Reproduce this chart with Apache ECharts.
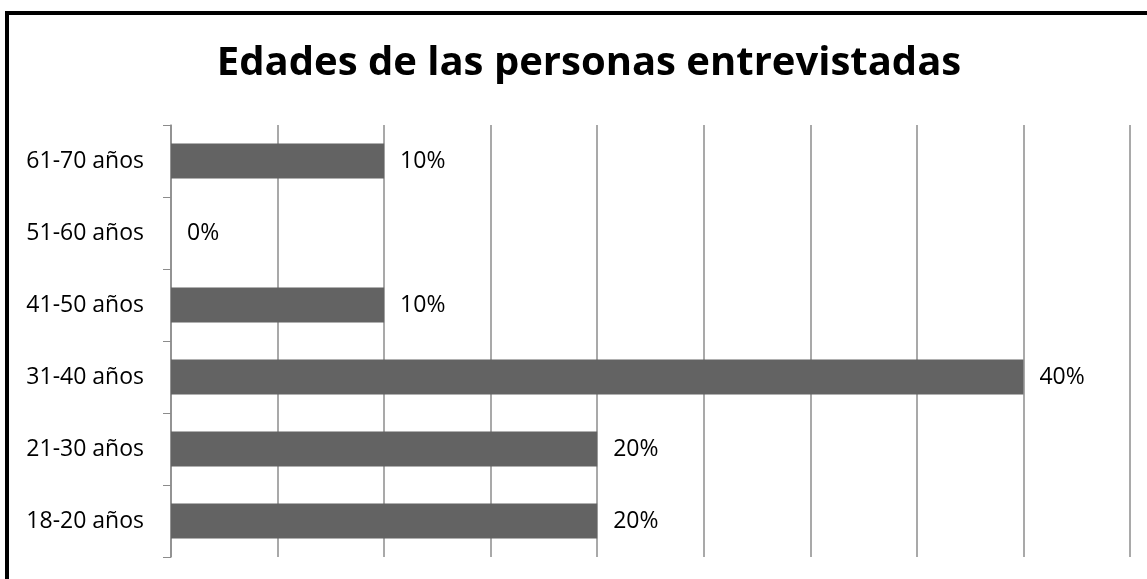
<!DOCTYPE html>
<html>
<head>
<meta charset="utf-8">
<script src="https://cdn.jsdelivr.net/npm/echarts@6/dist/echarts.min.js"></script>
<style>
  html, body { margin: 0; padding: 0; background: #fff; }
  #chart { width: 1147px; height: 579px; }
</style>
</head>
<body>
<div id="chart"></div>
<script>
var titleText = "Edades de las personas entrevistadas";
var ageGroups = ["18-20 años", "21-30 años", "31-40 años", "41-50 años", "51-60 años", "61-70 años"];
var percents = [20, 20, 40, 10, 0, 10];

var font = "'Open Sans', sans-serif";
var myChart = echarts.init(document.getElementById("chart"));

var option = {
  animation: false,
  title: {
    text: titleText,
    left: 584,
    textAlign: "center",
    top: 39,
    textStyle: {
      fontFamily: font,
      fontSize: 40,
      fontWeight: "bold",
      color: "#000",
    },
  },
  graphic: [
    {
      type: "rect",
      shape: { x: 7, y: 13, width: 1300, height: 800 },
      style: { fill: "none", stroke: "#000", lineWidth: 4 },
    },
  ],
  grid: {
    left: 171,
    right: 17,
    top: 125,
    bottom: 22,
  },
  xAxis: {
    type: "value",
    min: 0,
    max: 45,
    interval: 5,
    axisLabel: { show: false },
    axisLine: { show: false },
    axisTick: { show: false },
    splitLine: {
      show: true,
      lineStyle: { color: "#8c8c8c", width: 1.5 },
    },
  },
  yAxis: {
    type: "category",
    data: ageGroups,
    axisLine: { show: true, lineStyle: { color: "#8c8c8c", width: 1.5 } },
    axisTick: { show: true, length: 8, lineStyle: { color: "#8c8c8c" } },
    axisLabel: {
      margin: 27,
      fontFamily: font,
      fontSize: 23,
      color: "#000",
    },
  },
  series: [
    {
      name: "Edades",
      type: "bar",
      data: percents,
      barWidth: 35,
      itemStyle: { color: "#636363" },
      label: {
        show: true,
        position: "right",
        distance: 16,
        formatter: "{c}%",
        fontFamily: font,
        fontSize: 23,
        color: "#000",
      },
    },
  ],
};

myChart.setOption(option);
</script>
</body>
</html>
